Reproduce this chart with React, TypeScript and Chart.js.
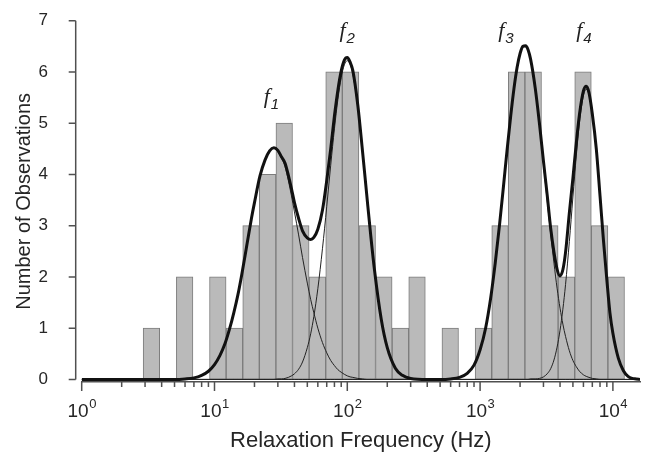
import React, { useEffect, useRef } from 'react';
import { Chart, registerables } from 'chart.js';

Chart.register(...registerables);

// Histogram bins (log-spaced, centre frequency in Hz) and counts
const binCenters = [3.35, 4.47, 5.96, 7.94, 10.59, 14.13, 18.84, 25.12, 33.5, 44.67, 59.57, 79.43, 105.9, 141.3, 188.4, 251.2, 335, 446.7, 595.7, 794.3, 1059, 1413, 1884, 2512, 3350, 4467, 5957, 7943, 10593];
const binCounts = [1, 0, 2, 0, 2, 1, 3, 4, 5, 3, 2, 6, 6, 3, 2, 1, 2, 0, 1, 0, 1, 3, 6, 6, 3, 2, 6, 3, 2];

// Frequencies (Hz) at which the fitted curves were read
const curveHz = [
  1, 2, 3, 4, 5, 6, 7, 8, 9, 10, 11, 12, 13, 14, 15, 16, 17, 18, 19, 20,
  22, 24, 26, 28, 30, 32, 34, 36, 38, 40,
  43, 46, 50, 53, 56, 60, 65, 70, 75, 80, 85, 90, 95, 100, 105, 110,
  120, 130, 140, 150, 160, 180, 200, 230, 260, 300, 400,
  500, 600, 700, 800, 900, 1000, 1100, 1200, 1300, 1400, 1500, 1600, 1700, 1800, 1900, 2000, 2100, 2200, 2300, 2400,
  2600, 2800, 3000, 3200, 3400, 3600, 3800, 4000, 4200, 4400, 4700,
  5000, 5300, 5600, 6000, 6300, 6600, 7000, 7500, 8000, 8500, 9000, 9500, 10000,
  11000, 12000, 13000, 14000, 15000, 16000,
];

// Total fit (thick curve)
const sumCurve = [
  0, 0, 0, 0, 0, 0.01, 0.03, 0.08, 0.16, 0.29, 0.47, 0.70, 0.99, 1.31, 1.65, 2.03, 2.42, 2.80, 3.15, 3.45,
  3.97, 4.28, 4.46, 4.52, 4.47, 4.34, 4.22, 3.98, 3.72, 3.45,
  3.14, 2.90, 2.76, 2.73, 2.77, 2.93, 3.30, 3.88, 4.50, 5.14, 5.65, 6.02, 6.23, 6.28, 6.19, 6.03,
  5.35, 4.47, 3.61, 2.82, 2.15, 1.18, 0.62, 0.22, 0.08, 0.02, 0,
  0, 0.01, 0.04, 0.12, 0.28, 0.58, 1.00, 1.58, 2.27, 3.01, 3.77, 4.50, 5.14, 5.68, 6.09, 6.36, 6.50, 6.51, 6.43, 6.25,
  5.69, 4.99, 4.26, 3.60, 2.95, 2.48, 2.15, 2.02, 2.14, 2.48, 3.25,
  3.93, 4.61, 5.17, 5.63, 5.72, 5.60, 5.18, 4.50, 3.58, 2.70, 1.95, 1.30, 0.90,
  0.41, 0.17, 0.06, 0.02, 0.01, 0,
];

// Individual components (thin curves)
const f1Curve = [
  0, 0, 0, 0, 0, 0.01, 0.03, 0.08, 0.16, 0.29, 0.47, 0.70, 0.99, 1.31, 1.65, 2.03, 2.42, 2.80, 3.15, 3.45,
  3.97, 4.28, 4.46, 4.51, 4.44, 4.32, 4.15, 3.88, 3.58, 3.27,
  2.82, 2.38, 1.88, 1.56, 1.30, 1.00, 0.72, 0.52, 0.37, 0.27, 0.19, 0.14, 0.10, 0.07, 0.05, 0.04,
  0.02, 0.01, 0, 0, 0, 0, 0, 0, 0, 0, 0,
  0, 0, 0, 0, 0, 0, 0, 0, 0, 0, 0, 0, 0, 0, 0, 0, 0, 0, 0, 0,
  0, 0, 0, 0, 0, 0, 0, 0, 0, 0, 0,
  0, 0, 0, 0, 0, 0, 0, 0, 0, 0, 0, 0, 0,
  0, 0, 0, 0, 0, 0,
];
const f2Curve = [
  0, 0, 0, 0, 0, 0, 0, 0, 0, 0, 0, 0, 0, 0, 0, 0, 0, 0, 0, 0,
  0, 0, 0, 0, 0.01, 0.01, 0.02, 0.04, 0.07, 0.11,
  0.20, 0.34, 0.62, 0.89, 1.23, 1.77, 2.55, 3.37, 4.18, 4.89, 5.47, 5.89, 6.14, 6.22, 6.15, 5.96,
  5.32, 4.46, 3.61, 2.82, 2.15, 1.18, 0.62, 0.22, 0.08, 0.02, 0,
  0, 0, 0, 0, 0, 0, 0, 0, 0, 0, 0, 0, 0, 0, 0, 0, 0, 0, 0, 0,
  0, 0, 0, 0, 0, 0, 0, 0, 0, 0, 0,
  0, 0, 0, 0, 0, 0, 0, 0, 0, 0, 0, 0, 0,
  0, 0, 0, 0, 0, 0,
];
const f3Curve = [
  0, 0, 0, 0, 0, 0, 0, 0, 0, 0, 0, 0, 0, 0, 0, 0, 0, 0, 0, 0,
  0, 0, 0, 0, 0, 0, 0, 0, 0, 0,
  0, 0, 0, 0, 0, 0, 0, 0, 0, 0, 0, 0, 0, 0, 0, 0,
  0, 0, 0, 0, 0, 0, 0, 0, 0, 0, 0,
  0, 0.01, 0.04, 0.12, 0.28, 0.57, 1.00, 1.58, 2.27, 3.01, 3.77, 4.50, 5.14, 5.68, 6.09, 6.36, 6.50, 6.51, 6.42, 6.24,
  5.68, 4.97, 4.21, 3.49, 2.84, 2.27, 1.78, 1.39, 1.08, 0.84, 0.56,
  0.37, 0.25, 0.16, 0.09, 0.06, 0.04, 0.02, 0.01, 0, 0, 0, 0, 0,
  0, 0, 0, 0, 0, 0,
];
const f4Curve = [
  0, 0, 0, 0, 0, 0, 0, 0, 0, 0, 0, 0, 0, 0, 0, 0, 0, 0, 0, 0,
  0, 0, 0, 0, 0, 0, 0, 0, 0, 0,
  0, 0, 0, 0, 0, 0, 0, 0, 0, 0, 0, 0, 0, 0, 0, 0,
  0, 0, 0, 0, 0, 0, 0, 0, 0, 0, 0,
  0, 0, 0, 0, 0, 0, 0, 0, 0, 0, 0, 0, 0, 0, 0, 0, 0, 0, 0, 0.01,
  0.01, 0.02, 0.05, 0.11, 0.21, 0.38, 0.63, 0.96, 1.37, 1.85, 2.69,
  3.56, 4.36, 5.01, 5.54, 5.66, 5.56, 5.16, 4.45, 3.55, 2.68, 1.93, 1.30, 0.90,
  0.41, 0.17, 0.06, 0.02, 0.01, 0,
];

// Axis ticks and labels
const decadeValues = [1, 10, 100, 1000, 10000];
const decadeBase = '10';
const decadeExponents = ['0', '1', '2', '3', '4'];
const minorMultipliers = [2, 3, 4, 5, 6, 7, 8, 9];
const yTicks = [0, 1, 2, 3, 4, 5, 6, 7];
const xMin = 1;
const xMax = 16000;

// Peak annotations f1..f4 (anchor in data coordinates)
const peakLabels = ['1', '2', '3', '4'];
const peakLabelHz = [23.5, 87.5, 1371, 5300];
const peakLabelY = [5.4, 6.68, 6.68, 6.68];

const xTitle = 'Relaxation Frequency (Hz)';
const yTitle = 'Number of Observations';

const FONT = "'Liberation Sans', Arial, Helvetica, sans-serif";
const TEXT = '#262626';

export default function App() {
  const ref = useRef<HTMLCanvasElement | null>(null);

  useEffect(() => {
    const canvas = ref.current;
    if (!canvas) return;
    const toXY = (xs: number[], ys: number[]) => xs.map((x, i) => ({ x, y: ys[i] }));

    const axesPlugin = {
      id: 'originAxes',
      afterDraw(chart: any) {
        const { ctx, chartArea, scales } = chart;
        const x = scales.x;
        const y = scales.y;
        ctx.save();
        ctx.strokeStyle = '#505050';
        ctx.lineWidth = 1.5;
        // y axis (offset to the left of plot area)
        const ax = chartArea.left - 6;
        ctx.beginPath();
        ctx.moveTo(ax, y.getPixelForValue(yTicks[0]));
        ctx.lineTo(ax, y.getPixelForValue(yTicks[yTicks.length - 1]));
        for (const v of yTicks) {
          const py = y.getPixelForValue(v);
          ctx.moveTo(ax - 7, py);
          ctx.lineTo(ax, py);
        }
        ctx.stroke();
        // x axis tick marks
        const by = chartArea.bottom;
        ctx.beginPath();
        for (const d of decadeValues) {
          const px = x.getPixelForValue(d);
          ctx.moveTo(px, by);
          ctx.lineTo(px, by + 9);
          for (const m of minorMultipliers) {
            const v = m * d;
            if (v > xMax) break;
            const pm = x.getPixelForValue(v);
            ctx.moveTo(pm, by);
            ctx.lineTo(pm, by + 5);
          }
        }
        ctx.stroke();
        // decade tick labels with superscript exponent
        ctx.fillStyle = TEXT;
        ctx.textBaseline = 'alphabetic';
        ctx.textAlign = 'left';
        decadeValues.forEach((d, i) => {
          const px = x.getPixelForValue(d);
          ctx.font = `19px ${FONT}`;
          const wb = ctx.measureText(decadeBase).width;
          ctx.font = `13px ${FONT}`;
          const we = ctx.measureText(decadeExponents[i]).width;
          const start = px - (wb + we) / 2;
          ctx.font = `19px ${FONT}`;
          ctx.fillText(decadeBase, start, by + 35);
          ctx.font = `13px ${FONT}`;
          ctx.fillText(decadeExponents[i], start + wb + 0.5, by + 26);
        });
        // peak labels
        ctx.fillStyle = '#222';
        peakLabels.forEach((lab, i) => {
          const px = x.getPixelForValue(peakLabelHz[i]);
          const py = y.getPixelForValue(peakLabelY[i]);
          ctx.font = "italic 22px 'Liberation Serif', 'Times New Roman', serif";
          ctx.fillText('f', px, py);
          ctx.font = `italic 15px ${FONT}`;
          ctx.fillText(lab, px + 7, py + 6);
        });
        ctx.restore();
      },
    };

    const lineBase = {
      type: 'line' as const,
      pointRadius: 0,
      cubicInterpolationMode: 'monotone' as const,
      fill: false,
    };

    const chart = new Chart(canvas, {
      type: 'bar',
      data: {
        datasets: [
          { ...lineBase, label: 'fit', data: toXY(curveHz, sumCurve), borderColor: '#111', borderWidth: 3, order: 1 },
          { ...lineBase, label: 'f1', data: toXY(curveHz, f1Curve), borderColor: '#222', borderWidth: 1, order: 2 },
          { ...lineBase, label: 'f2', data: toXY(curveHz, f2Curve), borderColor: '#222', borderWidth: 1, order: 2 },
          { ...lineBase, label: 'f3', data: toXY(curveHz, f3Curve), borderColor: '#222', borderWidth: 1, order: 2 },
          { ...lineBase, label: 'f4', data: toXY(curveHz, f4Curve), borderColor: '#222', borderWidth: 1, order: 2 },
          {
            type: 'bar',
            label: 'counts',
            data: toXY(binCenters, binCounts),
            backgroundColor: '#bababa',
            borderColor: '#7c7c7c',
            borderWidth: 1,
            borderSkipped: false,
            barPercentage: 1,
            categoryPercentage: 1,
            order: 5,
          } as any,
        ],
      },
      options: {
        responsive: false,
        animation: false,
        devicePixelRatio: 1,
        layout: { padding: { top: 20.7, right: 15, bottom: 0, left: 0 } },
        plugins: { legend: { display: false }, tooltip: { enabled: false } },
        scales: {
          x: {
            type: 'logarithmic',
            position: 'bottom',
            min: xMin,
            max: xMax,
            offset: false,
            grid: { display: false, drawTicks: false },
            border: { display: true, color: '#505050', width: 1.5 },
            afterBuildTicks: (scale: any) => {
              scale.ticks = decadeValues.map((v) => ({ value: v, major: true }));
            },
            afterFit: (scale: any) => {
              scale.height = 73;
              scale.paddingLeft = 0;
              scale.paddingRight = 0;
            },
            ticks: { display: false },
            title: {
              display: true,
              text: xTitle,
              color: TEXT,
              font: { family: FONT, size: 22 },
              padding: { top: 0, bottom: 1 },
            },
          },
          y: {
            type: 'linear',
            min: -0.05,
            max: 7,
            grid: { display: false, drawTicks: false },
            border: { display: false },
            afterBuildTicks: (scale: any) => {
              scale.ticks = yTicks.map((v) => ({ value: v }));
            },
            afterFit: (scale: any) => {
              scale.width = 81.7;
              scale.paddingTop = 0;
              scale.paddingBottom = 0;
            },
            ticks: {
              padding: 33.7,
              color: TEXT,
              font: { family: FONT, size: 17 },
            },
            title: {
              display: true,
              text: yTitle,
              color: TEXT,
              font: { family: FONT, size: 20 },
              padding: { top: 12, bottom: 0 },
            },
          },
        },
      } as any,
      plugins: [axesPlugin],
    });

    return () => chart.destroy();
  }, []);

  return (
    <div style={{ position: 'absolute', left: 0, top: 0, width: 655, height: 455, background: '#fff' }}>
      <canvas ref={ref} width={655} height={455} />
    </div>
  );
}
